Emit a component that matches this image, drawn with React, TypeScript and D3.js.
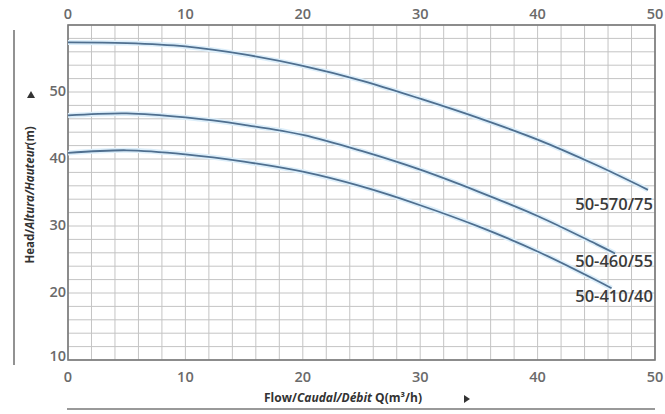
import React from "react";
import * as d3 from "d3";

const xTicks = [0, 10, 20, 30, 40, 50];
const yTicks = [10, 20, 30, 40, 50];

const curveNames = ["50-570/75", "50-460/55", "50-410/40"];

const flow570 = [0, 5, 10, 15, 20, 25, 30, 35, 40, 45, 49.4];
const head570 = [57.4, 57.3, 56.8, 55.6, 53.9, 51.7, 49.0, 46.1, 42.9, 39.1, 35.4];

const flow460 = [0, 5, 10, 15, 20, 25, 30, 35, 40, 45, 46.6];
const head460 = [46.5, 46.8, 46.2, 45.1, 43.6, 41.2, 38.4, 35.1, 31.5, 27.3, 25.9];

const flow410 = [0, 5, 10, 15, 20, 25, 30, 35, 40, 45, 46.3];
const head410 = [40.9, 41.3, 40.7, 39.6, 38.1, 35.9, 33.1, 29.9, 26.2, 21.9, 20.7];

const labelHeads = [33.1, 24.6, 19.3];

const W = 665;
const H = 414;
const L = 68, R = 655, T = 25, B = 360;

export default function App() {
  const x = d3.scaleLinear().domain([0, 50]).range([L, R]);
  const y = d3.scaleLinear().domain([10, 60]).range([B, T]);
  const line = d3
    .line<[number, number]>()
    .x((d) => x(d[0]))
    .y((d) => y(d[1]))
    .curve(d3.curveCatmullRom.alpha(0.5));

  const series = [
    { name: curveNames[0], pts: flow570.map((f, i) => [f, head570[i]] as [number, number]) },
    { name: curveNames[1], pts: flow460.map((f, i) => [f, head460[i]] as [number, number]) },
    { name: curveNames[2], pts: flow410.map((f, i) => [f, head410[i]] as [number, number]) },
  ];

  const gridX = d3.range(0, 51, 2);
  const gridY = d3.range(10, 61, 2);
  const font = "'Open Sans', 'DejaVu Sans', sans-serif";

  return (
    <svg
      width={W}
      height={H}
      style={{ position: "absolute", left: 0, top: 0, background: "#fff" }}
      fontFamily={font}
    >
      <rect x={0} y={0} width={W} height={H} fill="#fff" />
      {gridX.map((g) => (
        <line key={"gx" + g} x1={x(g)} x2={x(g)} y1={T} y2={B} stroke="#c4c4c4" strokeWidth={1} />
      ))}
      {gridY.map((g) => (
        <line key={"gy" + g} x1={L} x2={R} y1={y(g)} y2={y(g)} stroke="#c4c4c4" strokeWidth={1} />
      ))}
      <rect x={L} y={T} width={R - L} height={B - T} fill="none" stroke="#777" strokeWidth={1.6} />

      {series.map((s) => (
        <g key={s.name}>
          <path d={line(s.pts) || ""} fill="none" stroke="#dceefa" strokeWidth={5} />
          <path d={line(s.pts) || ""} fill="none" stroke="#4f6f8f" strokeWidth={1.8} />
        </g>
      ))}

      {series.map((s, i) => (
        <text
          key={"lab" + s.name}
          x={653}
          y={y(labelHeads[i])}
          textAnchor="end"
          dominantBaseline="middle"
          fontSize={16.5}
          fontWeight={600}
          fill="#3a3a3a"
        >
          {s.name}
        </text>
      ))}

      {xTicks.map((t) => (
        <text key={"tt" + t} x={x(t)} y={15} textAnchor="middle" dominantBaseline="middle" fontSize={14.5} fontWeight={600} fill="#6a6a6a">
          {t}
        </text>
      ))}
      {xTicks.map((t) => (
        <text key={"bt" + t} x={x(t)} y={378} textAnchor="middle" dominantBaseline="middle" fontSize={14.5} fontWeight={600} fill="#6a6a6a">
          {t}
        </text>
      ))}
      {yTicks.map((t) => (
        <text key={"yt" + t} x={L - 2} y={y(t) + (t === 10 ? -3 : 0)} textAnchor="end" dominantBaseline="middle" fontSize={14.5} fontWeight={600} fill="#6a6a6a">
          {t}
        </text>
      ))}

      <line x1={14} x2={14} y1={30} y2={365} stroke="#777" strokeWidth={1.6} />
      <text
        transform={`translate(31,195) rotate(-90)`}
        textAnchor="middle"
        dominantBaseline="middle"
        fontSize={11.5}
        fontWeight={700}
        fill="#333"
      >
        Head/<tspan fontStyle="italic">Altura/Hauteur</tspan>(m)
      </text>
      <path d="M27,98 L35,98 L31,91 Z" fill="#333" />

      <text x={343} y={399} textAnchor="middle" dominantBaseline="middle" fontSize={12} fontWeight={700} fill="#333">
        Flow/<tspan fontStyle="italic">Caudal/Débit</tspan> Q(m³/h)
      </text>
      <path d="M464,395 L464,403 L470,399 Z" fill="#333" />
      <line x1={67} x2={655} y1={409} y2={409} stroke="#777" strokeWidth={1.6} />
    </svg>
  );
}
